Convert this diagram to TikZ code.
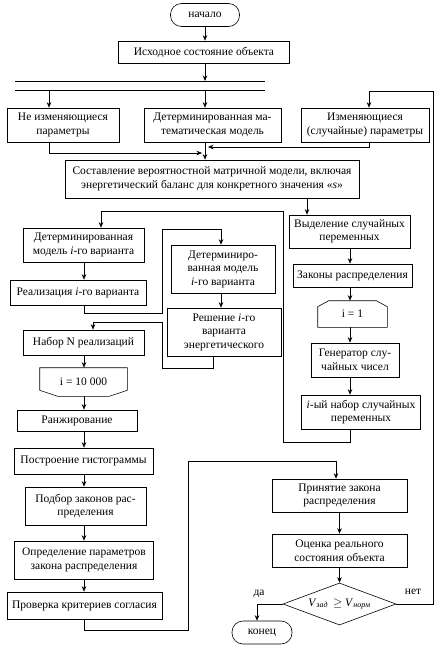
\documentclass[tikz,border=0pt]{standalone}
\usepackage{fontspec}
\setmainfont{Liberation Serif}
\usetikzlibrary{shapes.geometric, arrows.meta}

\newcommand\flowfont{\fontsize{11.5}{13.5}\selectfont}

\tikzset{
  block/.style={draw, rectangle, align=center, inner sep=1pt, font=\flowfont},
  term/.style={block, rounded corners=11pt},
  limit/.style={rectangle, align=center, inner sep=1pt, font=\flowfont},
  decide/.style={draw, diamond, aspect=2.7, inner sep=0pt, font=\flowfont},
  boxsize/.style 2 args={minimum width=#1pt, minimum height=#2pt},
  lbl/.style={inner sep=1pt, font=\flowfont},
}

\begin{document}
\begin{tikzpicture}[x=1pt, y=-1pt, >={Stealth[length=5.5pt, width=4.5pt]}, line width=0.6pt]
\useasboundingbox (0,0) rectangle (440,648);

\coordinate (colA) at (49,0);
\coordinate (colT) at (205,0);
\coordinate (colC) at (369,0);
\coordinate (colS) at (307,0);
\coordinate (colR) at (350,0);
\coordinate (colL) at (84,0);
\coordinate (colD) at (101,0);
\coordinate (colM) at (221,0);
\coordinate (colSo) at (213,0);
\coordinate (colN) at (93,0);
\coordinate (colP) at (336,0);
\coordinate (colE) at (257,0);

\coordinate (busA) at (15,81);
\coordinate (busB) at (265,81);
\coordinate (busC) at (15,90);
\coordinate (busD) at (265,90);
\coordinate (joinL) at (202,153);
\coordinate (joinR) at (208,147);
\coordinate (loopR) at (283,211);
\coordinate (loopM) at (162,229);
\coordinate (loopN) at (162,322);
\coordinate (loopB) at (188,461);
\coordinate (loopT) at (433,91);

\node[term, boxsize={69}{23}] (start) at (205,15) {начало};
\node[block, boxsize={171}{22}] (init) at (204,52) {Исходное состояние объекта};

\node[block, boxsize={112}{34}] (const) at (63,125) {Не изменяющиеся\\параметры};
\node[block, boxsize={137}{34}] (detm) at (212.5,125) {Детерминированная ма-\\тематическая модель};
\node[block, boxsize={128}{34}] (rand) at (365,125) {Изменяющиеся\\(случайные) параметры};
\node[block, boxsize={294}{38}] (matr) at (212,179)
  {Составление вероятностной матричной модели, включая\\энергетический баланс для конкретного значения «\textit{s}»};

\node[block, boxsize={121}{33}] (sel) at (349.5,231.5) {Выделение случайных\\переменных};
\node[block, boxsize={119}{23}] (laws) at (352.5,275.5) {Законы распределения};
\node[limit, boxsize={69}{26}] (i1) at (352.5,314) {i = 1};
\node[block, boxsize={88}{34}] (gen) at (355,360) {Генератор слу-\\чайных чисел};
\node[block, boxsize={119}{34}] (iset) at (361,412) {\textit{i}-ый набор случайных\\переменных};

\node[block, boxsize={121}{34}] (detmi) at (83.5,245) {Детерминированная\\модель \textit{i}-го варианта};
\node[block, boxsize={136}{25}] (real) at (78,292.5) {Реализация \textit{i}-го варианта};
\node[block, boxsize={104}{48}] (detmi2) at (223,269) {Детерминиро-\\ванная модель\\\textit{i}-го варианта};
\node[block, boxsize={114}{48}] (solve) at (224,332) {Решение \textit{i}-го\\варианта\\энергетического};
\node[block, boxsize={121}{25}] (nset) at (83.5,342.5) {Набор N реализаций};
\node[limit, boxsize={87}{28}] (i10k) at (83.5,382) {i = 10 000};
\node[block, boxsize={120}{21}] (rank) at (77,420.5) {Ранжирование};
\node[block, boxsize={139}{26}] (hist) at (83.5,461) {Построение гистограммы};
\node[block, boxsize={121}{38}] (fit) at (85.5,506) {Подбор законов рас-\\пределения};
\node[block, boxsize={139}{38}] (par) at (84,560) {Определение параметров\\закона распределения};
\node[block, boxsize={155}{27}] (check) at (84.5,605.5) {Проверка критериев согласия};

\node[block, boxsize={135}{33}] (accept) at (339.5,495.5) {Принятие закона\\распределения};
\node[block, boxsize={135}{33}] (eval) at (339.5,550.5) {Оценка реального\\состояния объекта};
\node[decide, minimum width=113pt, minimum height=42pt] (cond) at (339.5,604)
  {\textit{V}\textsubscript{\textit{зад}}\, $\geq$ \textit{V}\textsubscript{\textit{норм}}};
\node[term, boxsize={60}{23}] (stop) at (262,632.5) {конец};

\node[lbl] (yes) at (259,594) {да};
\node[lbl] (no) at (413,592) {нет};

\draw (i1.south west) -- ([yshift=-6pt]i1.north west) -- ([xshift=11pt]i1.north west)
  -- ([xshift=-11pt]i1.north east) -- ([yshift=-6pt]i1.north east) -- (i1.south east) -- cycle;
\draw (i10k.north west) -- ([yshift=6pt]i10k.south west) -- ([xshift=18pt]i10k.south west)
  -- ([xshift=-18pt]i10k.south east) -- ([yshift=6pt]i10k.south east) -- (i10k.north east) -- cycle;

\draw[->] (start.south) -- (start.south |- init.north);
\draw[->] (init.south -| colT) -- (busA -| colT);
\draw (busA) -- (busB);
\draw (busC) -- (busD);
\draw[->] (busC -| colA) -- (const.north -| colA);
\draw[->] (busC -| colT) -- (detm.north -| colT);
\draw[->] (const.south -| colA) |- (joinL);
\draw[->] (rand.south -| colC) |- (joinR);
\draw[->] (detm.south -| colT) -- (matr.north -| colT);
\draw[->] (matr.south -| colS) -- (sel.north -| colS);

\foreach \a/\b in {sel/laws, laws/i1, i1/gen, gen/iset}
  \draw[->] (\a.south -| colR) -- (\b.north -| colR);

\draw[->] (iset.south -| colR) -- ++(0,13) -| (loopR) -| (detmi.north -| colD);
\draw[->] (detmi.south -| colL) -- (real.north -| colL);
\draw[->] (real.south -| colL) -- ++(0,8) -| (loopM) -| (detmi2.north -| colM);
\draw[->] (detmi2.south -| colM) -- (solve.north -| colM);
\draw[->] (solve.south -| colSo) -- ++(0,12) -| (loopN) -| (nset.north -| colN);

\foreach \a/\b in {nset/i10k, i10k/rank, rank/hist, hist/fit, fit/par, par/check}
  \draw[->] (\a.south -| colL) -- (\b.north -| colL);

\draw[->] (check.south -| colL) -- ++(0,11) -| (loopB) -| (accept.north -| colP);
\draw[->] (accept) -- (eval);
\draw[->] (eval) -- (cond);
\draw[->] (cond.east) -| (loopT) -| (rand.north -| colC);
\draw[->] (cond.west) -| (stop.north -| colE);

\end{tikzpicture}
\end{document}
